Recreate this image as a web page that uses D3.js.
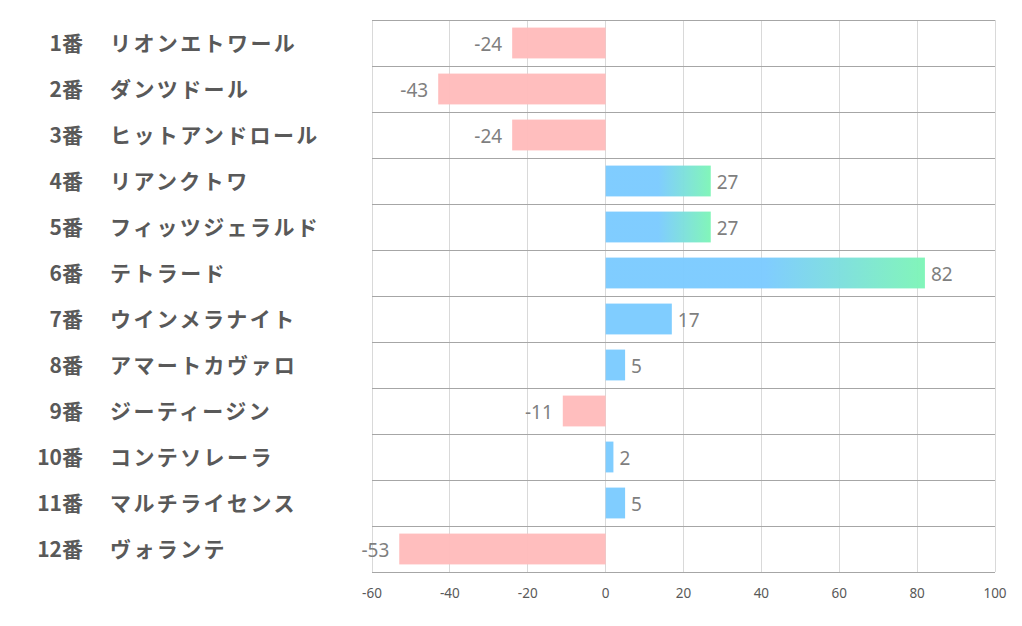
<!DOCTYPE html>
<html><head><meta charset="utf-8">
<script src="https://cdn.jsdelivr.net/npm/d3@7"></script>
<style>body{margin:0;background:#fff}svg{display:block}</style>
</head><body><svg id="c" width="1022" height="626"></svg>
<script>
const nums = ["1番","2番","3番","4番","5番","6番","7番","8番","9番","10番","11番","12番"];
const names = ["リオンエトワール","ダンツドール","ヒットアンドロール","リアンクトワ","フィッツジェラルド","テトラード","ウインメラナイト","アマートカヴァロ","ジーティージン","コンテソレーラ","マルチライセンス","ヴォランテ"];
const values = [-24,-43,-24,27,27,82,17,5,-11,2,5,-53];
const ticks = [-60,-40,-20,0,20,40,60,80,100];

const svg = d3.select("#c");
const L=372,R=995,T=20,B=572;
const x = d3.scaleLinear().domain([-60,100]).range([L,R]);
const y = d3.scaleBand().domain(d3.range(values.length)).range([T,B]).paddingInner(0.33).paddingOuter(0.165);
const rowH=(B-T)/values.length;

const defs=svg.append("defs");
const g=defs.append("linearGradient").attr("id","grad").attr("x1","0").attr("x2","1").attr("y1","0").attr("y2","0");
g.append("stop").attr("offset","0").attr("stop-color","#7ccbff");
g.append("stop").attr("offset","0.5").attr("stop-color","#7ccbff");
g.append("stop").attr("offset","1").attr("stop-color","#7ef5b7");

// vertical gridlines
svg.append("g").selectAll("line").data(ticks).join("line")
 .attr("x1",d=>x(d)).attr("x2",d=>x(d)).attr("y1",T).attr("y2",B)
 .attr("stroke","#d9d9d9").attr("stroke-width",1).attr("shape-rendering","crispEdges");

// bars
svg.append("g").selectAll("rect").data(values).join("rect")
 .attr("x",d=>x(Math.min(0,d))).attr("width",d=>Math.abs(x(d)-x(0)))
 .attr("y",(d,i)=>y(i)).attr("height",y.bandwidth())
 .attr("fill",d=>d<0?"#ffbcbc":(d>=20?"url(#grad)":"#7ccbff"))
 .attr("opacity",0.97);

// horizontal row lines
svg.append("g").selectAll("line").data(d3.range(values.length+1)).join("line")
 .attr("x1",L).attr("x2",R).attr("y1",i=>T+i*rowH).attr("y2",i=>T+i*rowH)
 .attr("stroke","#a6a6a6").attr("stroke-width",1).attr("shape-rendering","crispEdges");

// data labels
svg.append("g").selectAll("text").data(values).join("text")
 .attr("x",d=>d<0?x(d)-10:x(d)+6)
 .attr("y",(d,i)=>y(i)+y.bandwidth()/2+1)
 .attr("text-anchor",d=>d<0?"end":"start")
 .attr("dominant-baseline","central")
 .attr("font-family","'Noto Sans','Liberation Sans',sans-serif")
 .attr("font-size",19).attr("fill","#7f7f7f")
 .text(d=>d);

// x axis tick labels
svg.append("g").selectAll("text").data(ticks).join("text")
 .attr("x",d=>x(d)).attr("y",593).attr("text-anchor","middle").attr("dominant-baseline","central")
 .attr("font-family","'Noto Sans','Liberation Sans',sans-serif").attr("font-size",13.5).attr("fill","#595959")
 .text(d=>d);

// category labels
const lab=svg.append("g").attr("font-family","'Noto Sans CJK JP',sans-serif").attr("font-weight","bold").attr("font-size",21).attr("fill","#595959");
lab.selectAll("text.n").data(nums).join("text").attr("class","n")
 .attr("x",83).attr("y",(d,i)=>T+i*rowH+rowH/2-1).attr("text-anchor","end").attr("dominant-baseline","central").text(d=>d);
lab.selectAll("text.m").data(names).join("text").attr("class","m")
 .attr("x",110).attr("y",(d,i)=>T+i*rowH+rowH/2-1).attr("dominant-baseline","central")
 .attr("letter-spacing",2.4).text(d=>d);
</script></body></html>
